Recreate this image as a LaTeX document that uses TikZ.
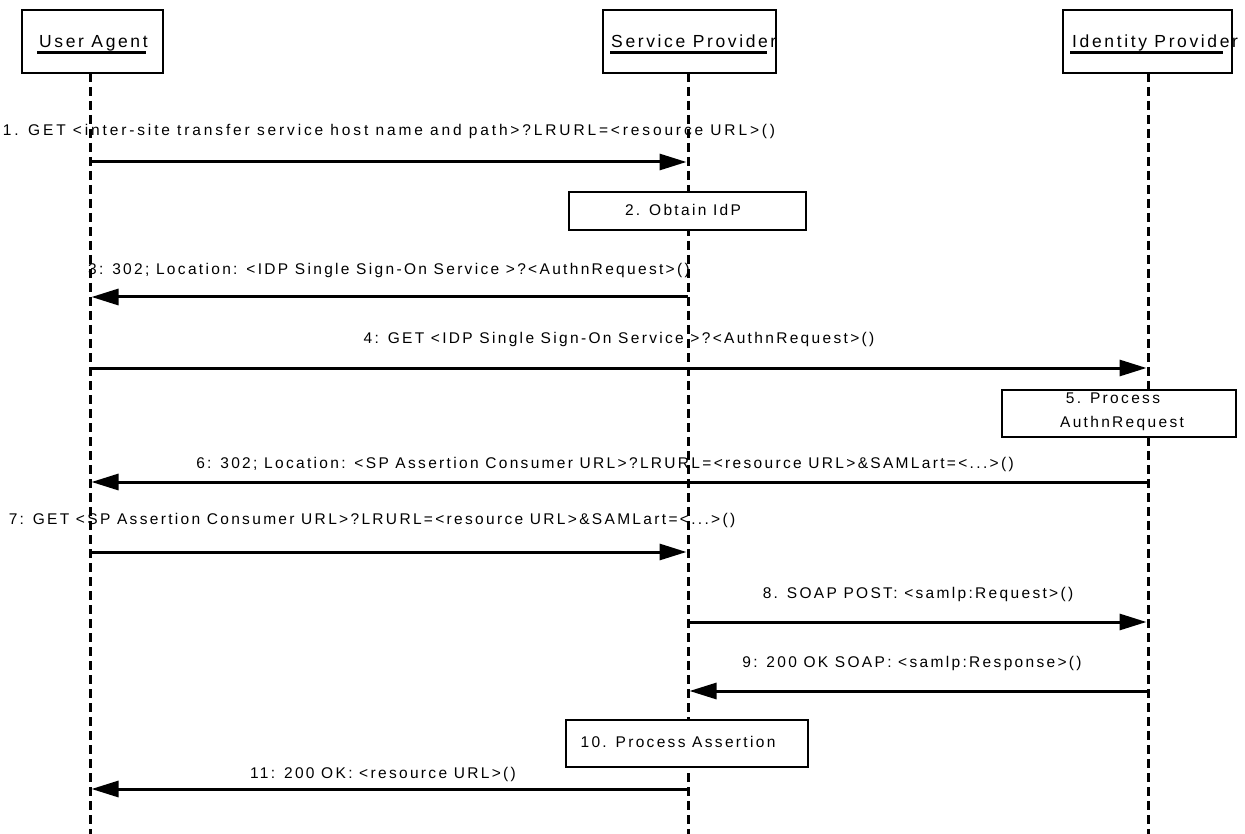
\documentclass[tikz,border=0pt]{standalone}
\usepackage{fontspec}
\setmainfont{Liberation Sans}
\newfontfamily\seqfont[LetterSpace=15]{Liberation Sans}
\newfontfamily\seqwidefont[LetterSpace=18.5]{Liberation Sans}
\usetikzlibrary{arrows.meta}

\begin{document}
\begin{tikzpicture}[x=1pt,y=-1pt,
  actor/.style={draw=black, line width=1.3pt, fill=white, inner sep=0pt},
  actbox/.style={draw=black, line width=1.3pt, fill=white, inner sep=0pt},
  title/.style={anchor=base west, inner sep=0pt, font=\seqfont\fontsize{17.5}{20}\selectfont},
  uline/.style={line width=3pt},
  lifeline/.style={line width=3pt, dash pattern=on 9pt off 5pt},
  msg/.style={line width=3pt, -{Triangle[length=27pt,width=16pt]}, shorten >=1.5pt},
  msglabel/.style={anchor=base, inner sep=0pt, font=\seqfont\fontsize{15.5}{18}\selectfont},
  widelabel/.style={msglabel, font=\seqwidefont\fontsize{15.5}{18}\selectfont},
  boxtext/.style={inner sep=0pt, align=center, font=\seqfont\fontsize{15.5}{24}\selectfont}]

% canvas
\fill[white] (0,0) rectangle (1245,834);
\useasboundingbox (0,0) rectangle (1245,834);

% lifeline end points
\coordinate (uaTop)  at (90,73);   \coordinate (uaBot)  at (90,834);
\coordinate (spTop)  at (688,73);  \coordinate (spBot)  at (688,834);
\coordinate (idpTop) at (1148,73); \coordinate (idpBot) at (1148,834);

% lifelines
\draw[lifeline] (uaTop) -- (uaBot);
\draw[lifeline] (spTop) -- (spBot);
\draw[lifeline] (idpTop) -- (idpBot);

% participants
\node[actor, minimum width=141pt, minimum height=63pt] (ua)  at (92.5,41.5) {};
\node[actor, minimum width=173pt, minimum height=63pt] (sp)  at (689.5,41.5) {};
\node[actor, minimum width=169pt, minimum height=63pt] (idp) at (1147.5,41.5) {};

\node[title] (uaT)  at (39,48)   {User Agent};
\node[title] (spT)  at (611,48)  {Service Provider};
\node[title] (idpT) at (1072,48) {Identity Provider};
\draw[uline] (37,52.5) -- (146,52.5);
\draw[uline] (610,52.5) -- (767,52.5);
\draw[uline] (1070,52.5) -- (1223,52.5);

% message end points
\coordinate (m1a) at (90,162);   \coordinate (m1b) at (688,162);
\coordinate (m3a) at (688,297);  \coordinate (m3b) at (90,297);
\coordinate (m4a) at (90,368);   \coordinate (m4b) at (1148,368);
\coordinate (m6a) at (1148,482); \coordinate (m6b) at (90,482);
\coordinate (m7a) at (90,552);   \coordinate (m7b) at (688,552);
\coordinate (m8a) at (688,622);  \coordinate (m8b) at (1148,622);
\coordinate (m9a) at (1148,691); \coordinate (m9b) at (688,691);
\coordinate (m11a) at (688,789); \coordinate (m11b) at (90,789);

% activity boxes
\node[actbox, minimum width=237pt, minimum height=38pt] (b2)  at (687.5,211) {};
\node[actbox, minimum width=234pt, minimum height=47pt] (b5)  at (1119,413.5) {};
\node[actbox, minimum width=242pt, minimum height=47pt] (b10) at (687,743.5) {};
\node[boxtext] (b2t)  at (683,210)  {2. Obtain IdP};
\node[boxtext] (b5t)  at (1122,412) {\hspace*{-18pt}5. Process\\AuthnRequest};
\node[boxtext] (b10t) at (678,742)  {10. Process Assertion};

% messages
\draw[msg] (m1a) -- (m1b);
\node[widelabel] (l1) at (389,136) {1. GET <inter-site transfer service host name and path>?LRURL=<resource URL>()};
\draw[msg] (m3a) -- (m3b);
\node[msglabel] (l3) at (389,275) {3: 302; Location: <IDP Single Sign-On Service >?<AuthnRequest>()};
\draw[msg] (m4a) -- (m4b);
\node[msglabel] (l4) at (619,343) {4: GET <IDP Single Sign-On Service >?<AuthnRequest>()};
\draw[msg] (m6a) -- (m6b);
\node[msglabel] (l6) at (605,468) {6: 302; Location: <SP Assertion Consumer URL>?LRURL=<resource URL>\&SAMLart=<...>()};
\draw[msg] (m7a) -- (m7b);
\node[msglabel] (l7) at (372,524) {7: GET <SP Assertion Consumer URL>?LRURL=<resource URL>\&SAMLart=<...>()};
\draw[msg] (m8a) -- (m8b);
\node[msglabel] (l8) at (918,598) {8. SOAP POST: <samlp:Request>()};
\draw[msg] (m9a) -- (m9b);
\node[msglabel] (l9) at (912,667) {9: 200 OK SOAP: <samlp:Response>()};
\draw[msg] (m11a) -- (m11b);
\node[msglabel] (l11) at (383,778) {11: 200 OK: <resource URL>()};
\end{tikzpicture}
\end{document}
